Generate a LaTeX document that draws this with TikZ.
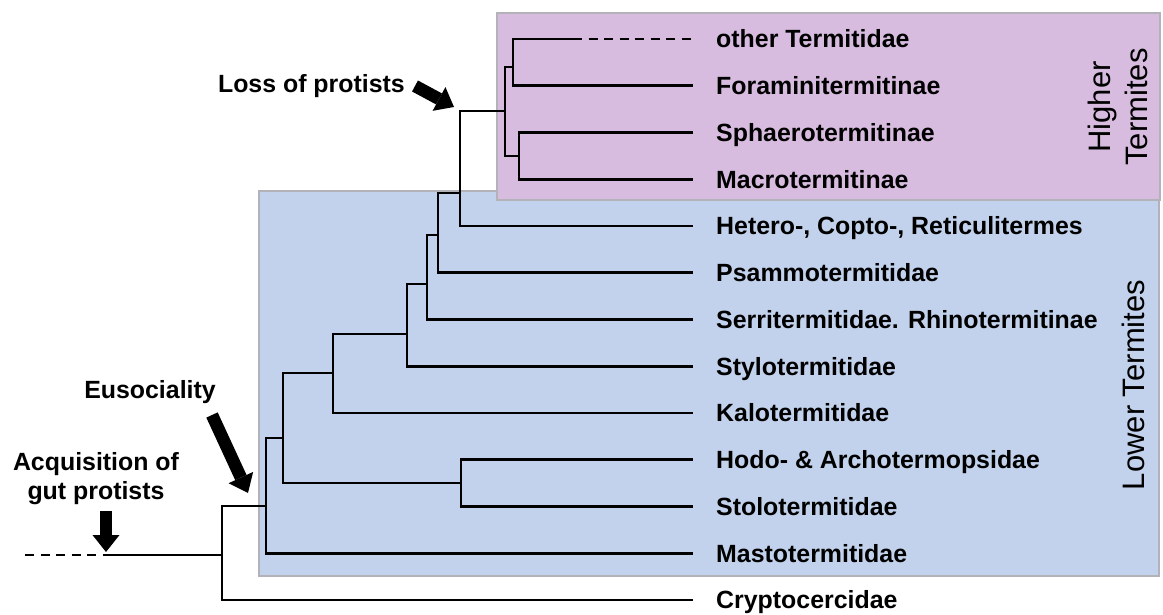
\documentclass[tikz,border=0pt]{standalone}
\usepackage{fontspec}
\setmainfont{Liberation Sans}
\usetikzlibrary{arrows.meta}
\definecolor{higherfill}{RGB}{216,188,224}
\definecolor{lowerfill}{RGB}{194,210,236}
\definecolor{boxedge}{RGB}{178,178,184}
\begin{document}
\begin{tikzpicture}[x=1pt,y=-1pt,
  groupbox/.style={draw=boxedge,line width=1.5pt},
  branch/.style={line width=2.7pt,line cap=rect,line join=miter},
  dashbranch/.style={line width=2.7pt,dash pattern=on 9pt off 6.5pt},
  taxon/.style={anchor=base west,inner sep=0pt,font=\fontsize{24.9}{29}\selectfont\bfseries},
  event/.style={inner sep=0pt,align=center,font=\fontsize{24.9}{29.5}\selectfont\bfseries},
  grouplabel/.style={inner sep=0pt,align=center,rotate=90,font=\fontsize{31}{37}\selectfont},
  bigarrow/.style={line width=12.5pt,-{Triangle[length=17pt,width=27pt,line width=0pt]}}]
\useasboundingbox (0,0) rectangle (1163,615);

% clade boxes
\path[groupbox,fill=lowerfill] (259,191) rectangle (1159,576);
\path[groupbox,fill=higherfill] (497,13) rectangle (1160,200);

% leaf tips
\coordinate (lf1) at (692,39);
\coordinate (lf1s) at (573,39);
\coordinate (lf2) at (692,85.75);
\coordinate (lf3) at (692,132.5);
\coordinate (lf4) at (692,179.25);
\coordinate (lf5) at (692,226);
\coordinate (lf6) at (692,272.75);
\coordinate (lf7) at (692,319.5);
\coordinate (lf8) at (692,366.25);
\coordinate (lf9) at (692,413);
\coordinate (lf10) at (692,459.75);
\coordinate (lf11) at (692,506.5);
\coordinate (lf12) at (692,553.25);
\coordinate (lf13) at (692,600);

% internal nodes
\coordinate (nI) at (513,67);
\coordinate (nJ) at (519,156);
\coordinate (nH) at (505,111);
\coordinate (nG) at (460,193);
\coordinate (nF) at (438,235);
\coordinate (nE) at (427,284);
\coordinate (nD) at (407,334);
\coordinate (nC) at (333,373);
\coordinate (nHS) at (461,483);
\coordinate (nB) at (283,438);
\coordinate (nA) at (266,506);
\coordinate (nR) at (222,555);
\coordinate (rootS) at (113,555);
\coordinate (rootD) at (25,555);

% branches
\draw[dashbranch] (rootD) -- (rootS);
\draw[branch] (rootS) -- (nR);
\draw[branch] (nR) |- (nA);
\draw[branch] (nR) |- (lf13);
\draw[branch] (nA) |- (nB);
\draw[branch] (nA) |- (lf12);
\draw[branch] (nB) |- (nC);
\draw[branch] (nB) |- (nHS);
\draw[branch] (nHS) |- (lf10);
\draw[branch] (nHS) |- (lf11);
\draw[branch] (nC) |- (nD);
\draw[branch] (nC) |- (lf9);
\draw[branch] (nD) |- (nE);
\draw[branch] (nD) |- (lf8);
\draw[branch] (nE) |- (nF);
\draw[branch] (nE) |- (lf7);
\draw[branch] (nF) |- (nG);
\draw[branch] (nF) |- (lf6);
\draw[branch] (nG) |- (nH);
\draw[branch] (nG) |- (lf5);
\draw[branch] (nH) |- (nI);
\draw[branch] (nH) |- (nJ);
\draw[branch] (nI) |- (lf1s);
\draw[dashbranch] (lf1s) -- (lf1);
\draw[branch] (nI) |- (lf2);
\draw[branch] (nJ) |- (lf3);
\draw[branch] (nJ) |- (lf4);

% taxon names
\node[taxon] (t1) at (716,47.8) {other Termitidae};
\node[taxon] (t2) at (716,94.55) {Foraminitermitinae};
\node[taxon] (t3) at (716,141.3) {Sphaerotermitinae};
\node[taxon] (t4) at (716,188.05) {Macrotermitinae};
\node[taxon] (t5) at (716,234.8) {Hetero-, Copto-, Reticulitermes};
\node[taxon] (t6) at (716,281.55) {Psammotermitidae};
\node[taxon] (t7) at (716,328.3) {Serritermitidae. Rhinotermitinae};
\node[taxon] (t8) at (716,375.05) {Stylotermitidae};
\node[taxon] (t9) at (716,421.8) {Kalotermitidae};
\node[taxon] (t10) at (716,468.55) {Hodo- \& Archotermopsidae};
\node[taxon] (t11) at (716,515.3) {Stolotermitidae};
\node[taxon] (t12) at (716,562.05) {Mastotermitidae};
\node[taxon] (t13) at (716,608.8) {Cryptocercidae};

% group labels
\node[grouplabel] (hiLab) at (1118,107) {Higher\\Termites};
\node[grouplabel] (loLab) at (1133,385) {Lower Termites};

% evolutionary events
\node[event,anchor=base east] (loss) at (405,93) {Loss of protists};
\node[event,anchor=base] (euso) at (150,398) {Eusociality};
\node[event,anchor=north] (acq) at (96,452) {Acquisition of\\gut protists};

\coordinate (lossTail) at (415,86);
\coordinate (lossTip) at (454,107);
\coordinate (eusoTail) at (212,415);
\coordinate (eusoTip) at (248,493);
\coordinate (acqTail) at (106,511);
\coordinate (acqTip) at (106,552);
\draw[bigarrow] (lossTail) -- (lossTip);
\draw[bigarrow] (eusoTail) -- (eusoTip);
\draw[bigarrow] (acqTail) -- (acqTip);
\end{tikzpicture}
\end{document}
